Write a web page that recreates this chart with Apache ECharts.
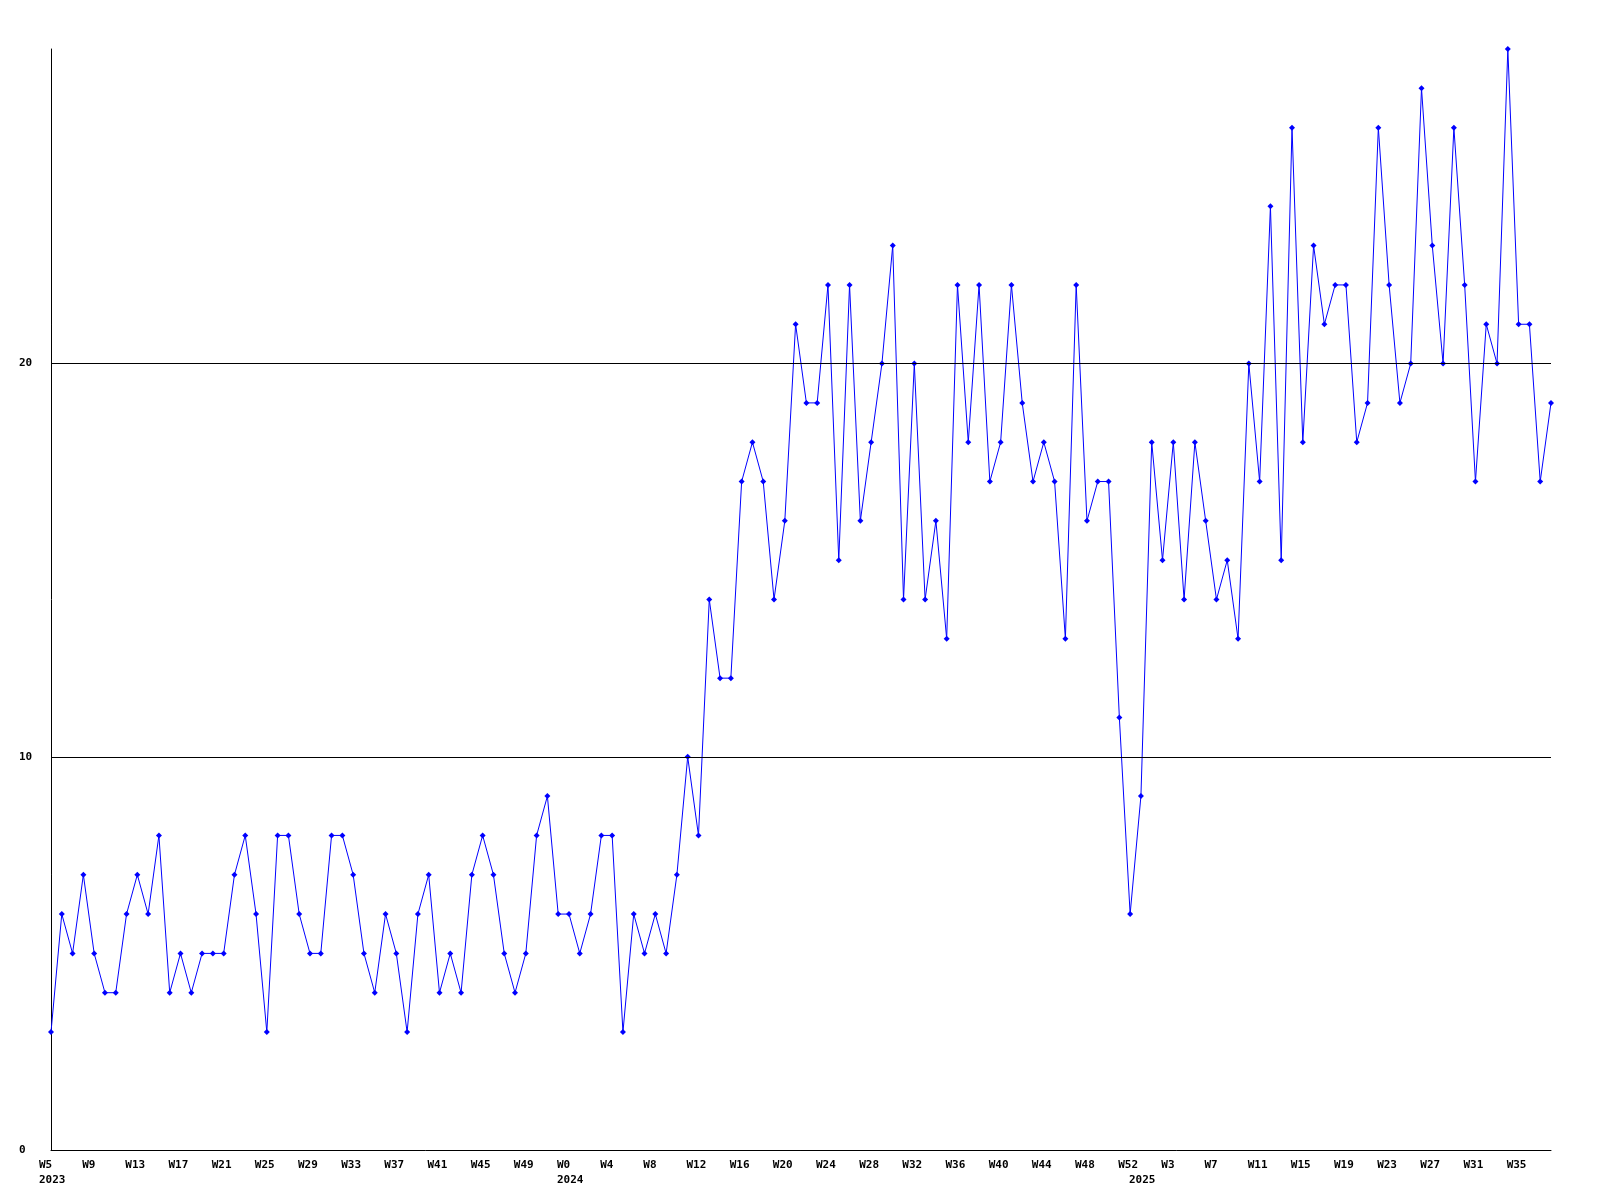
<!DOCTYPE html>
<html>
<head>
<meta charset="utf-8">
<script src="https://cdn.jsdelivr.net/npm/echarts@6/dist/echarts.min.js"></script>
<style>html,body{margin:0;padding:0;background:#fff}#chart{width:1600px;height:1200px}</style>
</head>
<body>
<div id="chart"></div>
<script>
// Week segments (year, first week, last week)
const segYears = [2023, 2024, 2025];
const segFirstWeek = [5, 0, 0];
const segLastWeek = [52, 52, 38];

// Weekly values
const values = [
  3, 6, 5, 7, 5, 4, 4, 6, 7, 6,
  8, 4, 5, 4, 5, 5, 5, 7, 8, 6,
  3, 8, 8, 6, 5, 5, 8, 8, 7, 5,
  4, 6, 5, 3, 6, 7, 4, 5, 4, 7,
  8, 7, 5, 4, 5, 8, 9, 6, 6, 5,
  6, 8, 8, 3, 6, 5, 6, 5, 7, 10,
  8, 14, 12, 12, 17, 18, 17, 14, 16, 21,
  19, 19, 22, 15, 22, 16, 18, 20, 23, 14,
  20, 14, 16, 13, 22, 18, 22, 17, 18, 22,
  19, 17, 18, 17, 13, 22, 16, 17, 17, 11,
  6, 9, 18, 15, 18, 14, 18, 16, 14, 15,
  13, 20, 17, 24, 15, 26, 18, 23, 21, 22,
  22, 18, 19, 26, 22, 19, 20, 27, 23, 20,
  26, 22, 17, 21, 20, 28, 21, 21, 17, 19
];

const yTicks = [0, 10, 20];
const gridLevels = [10, 20];

const weekNames = [];
const weekYears = [];
for (let s = 0; s < segYears.length; s++) {
  for (let w = segFirstWeek[s]; w <= segLastWeek[s]; w++) {
    weekNames.push('W' + w);
    weekYears.push(segYears[s]);
  }
}
const categories = weekNames.map((w, i) => w + '|' + weekYears[i]);

function isYearStart(i) { return i === 0 || weekYears[i] !== weekYears[i - 1]; }

const chart = echarts.init(document.getElementById('chart'), null, {renderer: 'canvas'});
const font = 'DejaVu Sans Mono';
chart.setOption({
  animation: false,
  backgroundColor: '#ffffff',
  grid: {left: 51, right: 49, top: 49, bottom: 50, containLabel: false},
  xAxis: {
    type: 'category',
    data: categories,
    boundaryGap: false,
    axisLine: {show: true, lineStyle: {color: '#000', width: 1}},
    axisTick: {show: false},
    splitLine: {show: false},
    axisLabel: {
      interval: (i) => i % 4 === 0 || isYearStart(i),
      formatter: (v, i) => {
        const parts = v.split('|');
        const top = i % 4 === 0 ? parts[0] : '';
        return isYearStart(i) ? top + '\n' + parts[1] : top;
      },
      align: 'left',
      padding: [0, 0, 0, -12],
      margin: 8,
      lineHeight: 15,
      color: '#000',
      fontFamily: font,
      fontWeight: 'bold',
      fontSize: 11
    }
  },
  yAxis: {
    type: 'value',
    min: 0,
    max: 28,
    interval: 10,
    axisLine: {show: true, lineStyle: {color: '#000', width: 1}},
    axisTick: {show: false},
    splitLine: {show: false},
    axisLabel: {
      formatter: (v) => yTicks.indexOf(v) >= 0 ? String(v) : '',
      align: 'left',
      margin: 32,
      color: '#000',
      fontFamily: font,
      fontWeight: 'bold',
      fontSize: 11
    }
  },
  series: [{
    type: 'line',
    data: values,
    symbol: 'diamond',
    symbolSize: 6,
    showAllSymbol: true,
    lineStyle: {color: '#0000ff', width: 1},
    itemStyle: {color: '#0000ff'},
    markLine: {
      silent: true,
      symbol: 'none',
      label: {show: false},
      lineStyle: {color: '#000', width: 1, type: 'solid'},
      data: gridLevels.map(v => ({yAxis: v}))
    }
  }]
});
</script>
</body>
</html>
